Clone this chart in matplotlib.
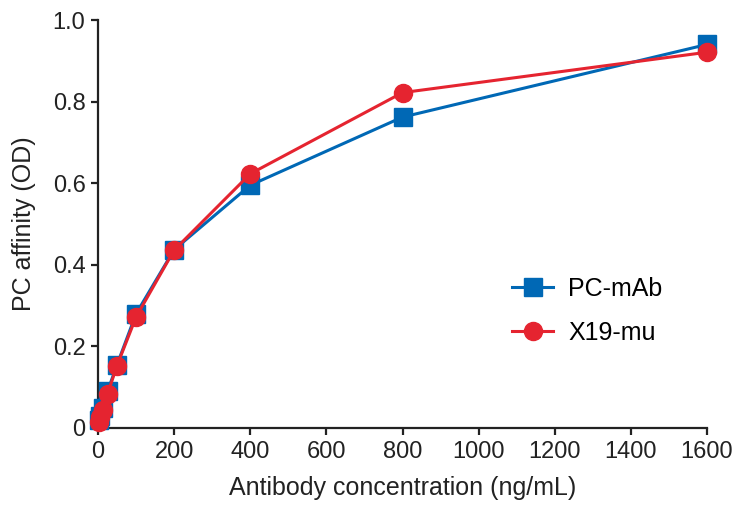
import matplotlib
matplotlib.use("Agg")
from matplotlib import pyplot as plt
import numpy as np

plt.rcParams['font.family'] = ['Liberation Sans', 'DejaVu Sans']

# antibody concentration (ng/mL)
conc = [3.125, 6.25, 12.5, 25, 50, 100, 200, 400, 800, 1600]
pc_mab = [0.020, 0.030, 0.050, 0.090, 0.155, 0.280, 0.437, 0.595, 0.762, 0.940]
x19_mu = [0.015, 0.028, 0.045, 0.083, 0.153, 0.272, 0.436, 0.623, 0.822, 0.921]

x_ticks = [0, 200, 400, 600, 800, 1000, 1200, 1400, 1600]
y_ticks = [0, 0.2, 0.4, 0.6, 0.8, 1.0]
y_tick_labels = ["0", "0.2", "0.4", "0.6", "0.8", "1.0"]

blue = "#0068b5"
red = "#e52430"

fig = plt.figure(figsize=(7.38, 5.11), dpi=100)
ax = fig.add_axes([98 / 738, 1 - 428 / 511, (707 - 98) / 738, (428 - 20) / 511])

ax.plot(conc, pc_mab, color=blue, marker="s", markersize=12.5, linewidth=2.2,
        label="PC-mAb", clip_on=False, zorder=3)
ax.plot(conc, x19_mu, color=red, marker="o", markersize=13, linewidth=2.2,
        label="X19-mu", clip_on=False, zorder=4)

ax.set_xlim(0, 1600)
ax.set_ylim(0, 1.0)
ax.set_xticks(x_ticks)
ax.set_yticks(y_ticks)
ax.set_yticklabels(y_tick_labels)

for side in ["top", "right"]:
    ax.spines[side].set_visible(False)
for side in ["left", "bottom"]:
    ax.spines[side].set_linewidth(1.6)
    ax.spines[side].set_color("#222222")

ax.tick_params(axis="both", direction="out", length=5, width=1.6, color="#222222",
               labelsize=17, labelcolor="#222222", pad=4)

ax.set_xlabel("Antibody concentration (ng/mL)", fontsize=18, color="#222222", labelpad=10)
ax.set_ylabel("PC affinity (OD)", fontsize=18, color="#222222", labelpad=12)

ax.legend(loc="upper left", bbox_to_anchor=(0.643, 0.426), frameon=False, fontsize=18,
          handlelength=1.65, labelspacing=0.8, handletextpad=0.6, markerscale=1.0)

fig.savefig("out.png", dpi=100)
